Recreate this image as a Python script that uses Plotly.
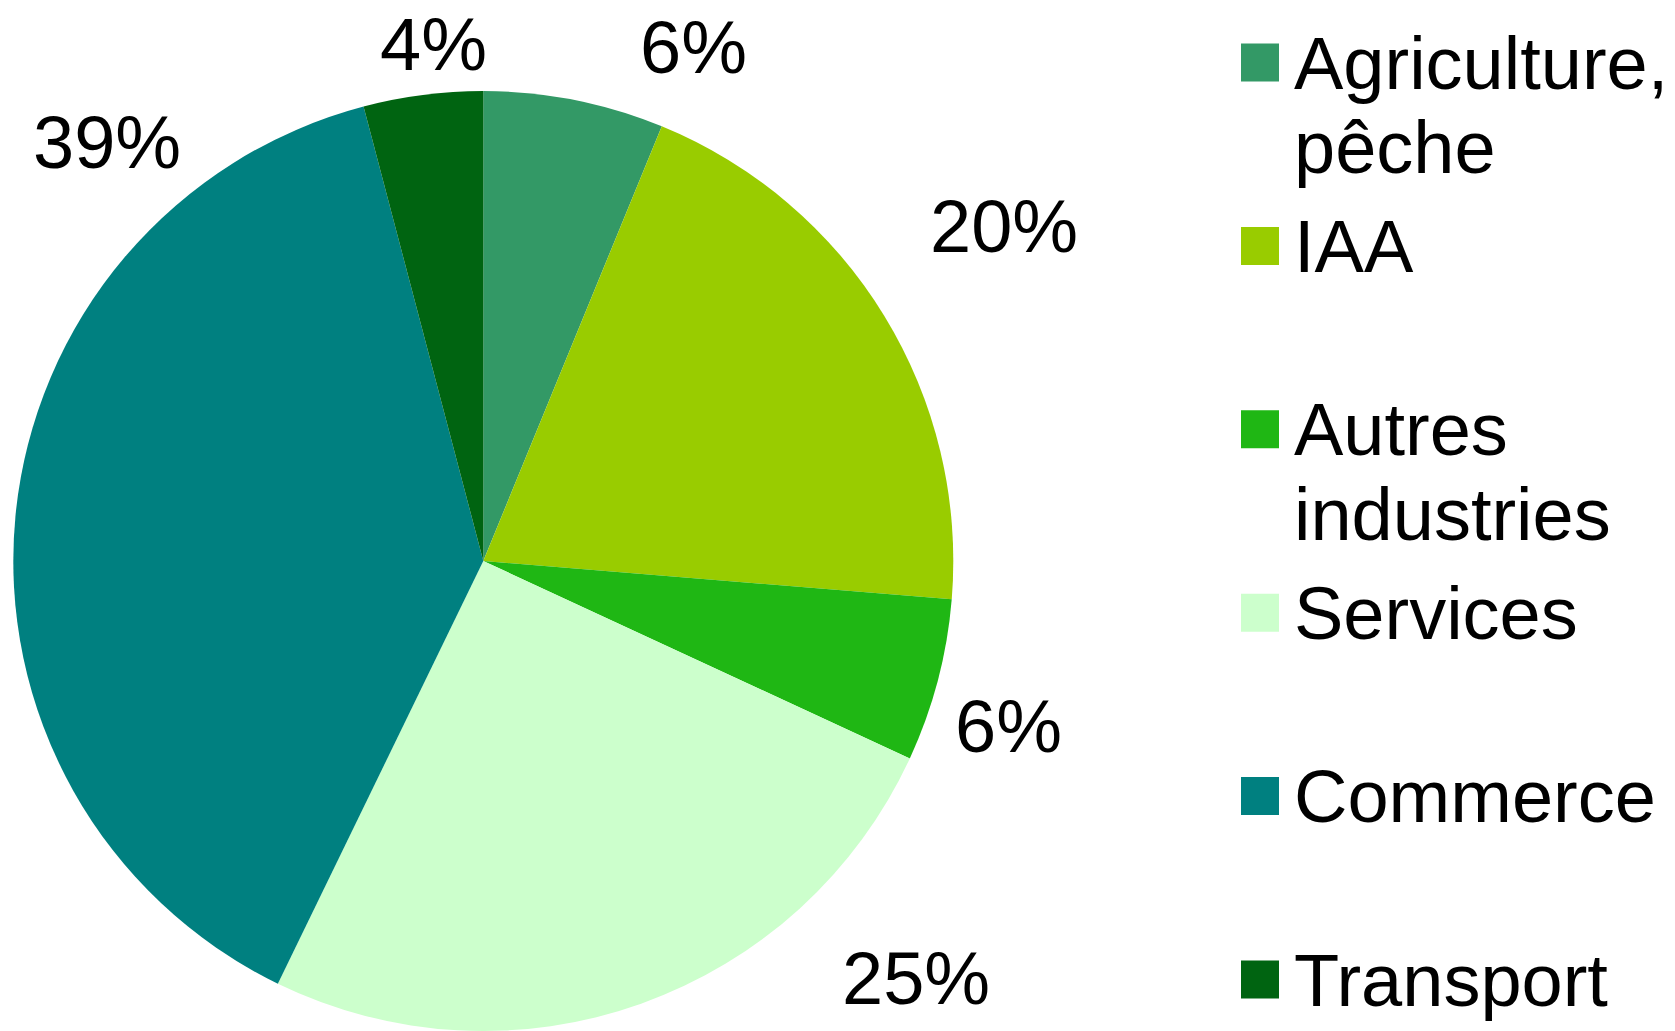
import plotly.graph_objects as go

# ---- data ----
categories = ["Agriculture,\npêche", "IAA", "Autres\nindustries", "Services", "Commerce", "Transport"]
values = [6.2, 20.1, 5.6, 25.3, 38.7, 4.1]
colors = ["#339966", "#99CC00", "#1FB714", "#CCFFCC", "#008080", "#006411"]

# ---- layout constants (pixels) ----
W, H = 1675, 1031
FONT = "Liberation Sans, Arial, sans-serif"
FS = 74

def px(x):
    return x / W

def py(y):
    return 1 - y / H

# label anchor positions (pixel centre x, baseline y) for outside percentage labels
label_pos = [(693, 73), (1004, 252), (1008, 752), (916, 1004), (107, 168), (434, 65)]

fig = go.Figure()
fig.add_trace(go.Pie(
    labels=[c.replace("\n", " ") for c in categories],
    values=values,
    sort=False,
    direction="clockwise",
    rotation=0,
    marker=dict(colors=colors, line=dict(width=0)),
    textinfo="none",
    hoverinfo="label+percent",
    showlegend=False,
    domain=dict(x=[px(13.3), px(953.3)], y=[0, 940 / H]),
))

total = sum(values)
BASE_OFF = 25.5
HALF_BOX = 44  # keep annotation boxes inside the page
annotations = []
for v, (cx, base) in zip(values, label_pos):
    ymid = max(base - BASE_OFF, HALF_BOX)
    annotations.append(dict(
        x=px(cx), y=py(ymid), xref="paper", yref="paper",
        text=f"{round(v / total * 100)}%", showarrow=False,
        xanchor="center", yanchor="middle",
        font=dict(family=FONT, size=FS, color="black"),
    ))

# manual legend with large square swatches
shapes = []
for i, (cat, col) in enumerate(zip(categories, colors)):
    yc = 62.5 + i * 183.4
    shapes.append(dict(
        type="rect", xref="paper", yref="paper",
        x0=px(1241), x1=px(1279), y0=py(yc - 19), y1=py(yc + 19),
        fillcolor=col, line=dict(width=0),
    ))
    for j, line in enumerate(cat.split("\n")):
        annotations.append(dict(
            x=px(1292), y=py(yc + 0.5 + j * 84.4), xref="paper", yref="paper",
            text=line, showarrow=False, xanchor="left", yanchor="middle",
            font=dict(family=FONT, size=FS, color="black"),
        ))

fig.update_layout(
    width=W, height=H,
    margin=dict(l=0, r=0, t=0, b=0),
    paper_bgcolor="white",
    plot_bgcolor="white",
    annotations=annotations,
    shapes=shapes,
)

fig.write_html(
    "out.html",
    config={"displayModeBar": False},
    post_script="document.body.style.margin='0';document.body.style.overflow='hidden';",
)
